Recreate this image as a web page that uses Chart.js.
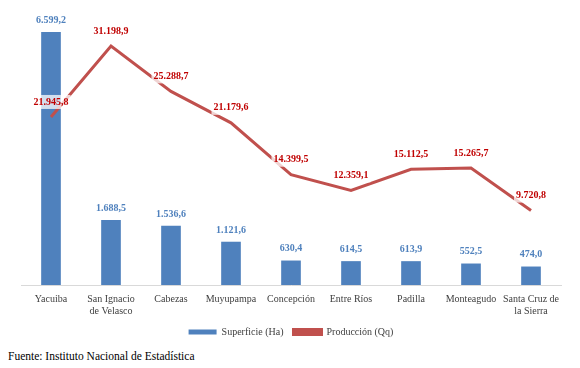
<!DOCTYPE html>
<html>
<head>
<meta charset="utf-8">
<script src="https://cdn.jsdelivr.net/npm/chart.js@4.4.0/dist/chart.umd.min.js"></script>
<style>
  body { margin: 0; background: #fff; }
  #wrap { position: relative; width: 580px; height: 347px; }
  #fuente { position: absolute; left: 8px; top: 350px; font-family: 'Liberation Serif', serif; font-size: 11.5px; color: #000; }
</style>
</head>
<body>
<div id="wrap"><canvas id="myChart"></canvas></div>
<div id="fuente">Fuente: Instituto Nacional de Estadística</div>
<script>
const ctx = document.getElementById('myChart');
const SERIF = 'Liberation Serif';

const municipios = ['Yacuiba', ['San Ignacio', 'de Velasco'], 'Cabezas', 'Muyupampa', 'Concepción',
  'Entre Ríos', 'Padilla', 'Monteagudo', ['Santa Cruz de', 'la Sierra']];
const superficie = [6599.2, 1688.5, 1536.6, 1121.6, 630.4, 614.5, 613.9, 552.5, 474.0];
const produccion = [21945.8, 31198.9, 25288.7, 21179.6, 14399.5, 12359.1, 15112.5, 15265.7, 9720.8];

// formato 6.599,2
function fmt(v) {
  let s = v.toFixed(1).split('.');
  let ent = s[0].replace(/\B(?=(\d{3})+(?!\d))/g, '.');
  return ent + ',' + s[1];
}

const etiquetas = {
  id: 'etiquetas',
  afterDatasetsDraw(chart) {
    const c = chart.ctx;
    c.save();
    c.font = 'bold 10px "Liberation Serif"';
    c.textAlign = 'center';
    c.textBaseline = 'middle';
    chart.getDatasetMeta(0).data.forEach((bar, i) => {
      c.fillStyle = '#4F81BD';
      c.fillText(fmt(superficie[i]), bar.x, bar.y - 12);
    });
    chart.getDatasetMeta(1).data.forEach((pt, i) => {
      let txt = fmt(produccion[i]);
      let w = c.measureText(txt).width;
      let y = pt.y - 15;
      c.fillStyle = 'rgba(255,255,255,0.75)';
      c.fillRect(pt.x - w / 2 - 2, y - 7, w + 4, 14);
      c.fillStyle = '#C00000';
      c.fillText(txt, pt.x, y);
    });
    c.restore();
  }
};

new Chart(ctx, {
  data: {
    labels: municipios,
    datasets: [
      {
        type: 'bar',
        label: 'Superficie (Ha)',
        data: superficie,
        backgroundColor: '#4F81BD',
        yAxisID: 'y',
        barThickness: 19,
        order: 2
      },
      {
        type: 'line',
        label: 'Producción (Qq)',
        data: produccion,
        borderColor: '#C0504D',
        backgroundColor: '#C0504D',
        borderWidth: 3,
        pointRadius: 0,
        tension: 0,
        yAxisID: 'y2',
        order: 1
      }
    ]
  },
  options: {
    responsive: true,
    maintainAspectRatio: false,
    animation: false,
    layout: { padding: { left: 21, right: 19, top: 17, bottom: 0 } },
    scales: {
      x: {
        grid: { display: false },
        border: { color: '#D9D9D9' },
        ticks: { color: '#404040', font: { family: SERIF, size: 10 }, maxRotation: 0, padding: 0 }
      },
      y: { display: false, min: 0, max: 7000 },
      y2: { display: false, min: 0, max: 35000 }
    },
    plugins: {
      legend: {
        position: 'bottom',
        labels: {
          boxWidth: 28, boxHeight: 5,
          color: '#404040',
          font: { family: SERIF, size: 10 },
          padding: 10,
          sort: (a, b) => a.datasetIndex - b.datasetIndex
        }
      },
      tooltip: { enabled: false }
    }
  },
  plugins: [etiquetas]
});
</script>
</body>
</html>
